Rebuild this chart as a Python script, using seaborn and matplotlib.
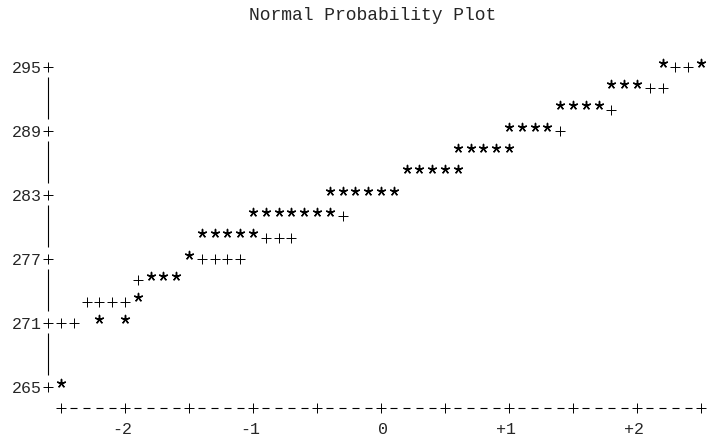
import matplotlib
matplotlib.use("Agg")
import numpy as np
import matplotlib.pyplot as plt
import matplotlib.transforms as mtransforms
import seaborn as sns

# ---------------------------------------------------------------------------
# Datos (cuantil normal, valor)
# ---------------------------------------------------------------------------
titulo = "Normal Probability Plot"

# observaciones (*)
obs_q = [2.2, 2.5,
         1.8, 1.9, 2.0,
         1.4, 1.5, 1.6, 1.7,
         1.0, 1.1, 1.2, 1.3,
         0.6, 0.7, 0.8, 0.9, 1.0,
         0.2, 0.3, 0.4, 0.5, 0.6,
         -0.4, -0.3, -0.2, -0.1, 0.0, 0.1,
         -1.0, -0.9, -0.8, -0.7, -0.6, -0.5, -0.4,
         -1.4, -1.3, -1.2, -1.1, -1.0,
         -1.5,
         -1.8, -1.7, -1.6,
         -1.9,
         -2.2, -2.0,
         -2.5]
obs_val = [295, 295,
           293, 293, 293,
           291, 291, 291, 291,
           289, 289, 289, 289,
           287, 287, 287, 287, 287,
           285, 285, 285, 285, 285,
           283, 283, 283, 283, 283, 283,
           281, 281, 281, 281, 281, 281, 281,
           279, 279, 279, 279, 279,
           277,
           275, 275, 275,
           273,
           271, 271,
           265]

# línea de referencia (+)
ref_q = [2.3, 2.4,
         2.1, 2.2,
         1.8,
         1.4,
         -0.3,
         -0.9, -0.8, -0.7,
         -1.4, -1.3, -1.2, -1.1,
         -1.9,
         -2.3, -2.2, -2.1, -2.0,
         -2.5, -2.4]
ref_val = [295, 295,
           293, 293,
           291,
           289,
           281,
           279, 279, 279,
           277, 277, 277, 277,
           275,
           273, 273, 273, 273,
           271, 271]

y_ticks = [295, 289, 283, 277, 271, 265]
x_ticks = [-2, -1, 0, 1, 2]
x_tick_labels = ["-2", "-1", "0", "+1", "+2"]

# ---------------------------------------------------------------------------
# Estilo tipo impresora de líneas
# ---------------------------------------------------------------------------
sns.set_style("white")
plt.rcParams['font.family'] = ['Liberation Mono', 'DejaVu Sans Mono']
FS = 12
PX_Q = 128.0          # píxeles por unidad de cuantil
PX_V = 64.0 / 6.0     # píxeles por unidad de valor

fig = plt.figure(figsize=(7.09, 4.39), dpi=100)
ax = fig.add_axes([0, 0, 1, 1])
ax.set_xlim(-2.5 - 61 / PX_Q, -2.5 + 648 / PX_Q)
ax.set_ylim(295 - 371 / PX_V, 295 + 68 / PX_V)
ax.axis('off')

# puntos
sns.scatterplot(x=ref_q, y=ref_val, marker='+', s=52, color='black',
                linewidth=0.7, ax=ax)
star_tr = mtransforms.offset_copy(ax.transData, fig=fig, y=4.5, units='dots')
sns.scatterplot(x=obs_q, y=obs_val, marker=(5, 2, 0), s=34, color='black',
                linewidth=1.05, ax=ax, transform=star_tr)

# eje x: +----+----+ ...
v_eje = min(y_ticks) - 2
marcas = np.arange(-2.5, 2.51, 0.5)
guiones = np.array([m + d for m in marcas[:-1] for d in (0.1, 0.2, 0.3, 0.4)])
ax.plot(marcas, np.full(len(marcas), v_eje), ls='none', marker='+', ms=7.2,
        mew=0.7, color='black')
ax.hlines(np.full(len(guiones), v_eje), guiones - 0.026, guiones + 0.026,
          color='black', lw=0.8)

lab_tr = mtransforms.offset_copy(ax.transData, fig=fig, y=-24.7, units='dots')
for t, lab in zip(x_ticks, x_tick_labels):
    ax.text(t + 0.055, v_eje, lab, ha='right', va='baseline', fontsize=FS,
            transform=lab_tr)

# eje y: 295+ | | 289+ ...
x_eje = -2.6
ax.plot(np.full(len(y_ticks), x_eje), y_ticks, ls='none', marker='+', ms=7.2,
        mew=0.7, color='black')
for sup, inf in zip(y_ticks[:-1], y_ticks[1:]):
    ax.vlines(x_eje, inf + 1.1, sup - 0.95, color='black', lw=0.8)

ylab_tr = mtransforms.offset_copy(ax.transData, fig=fig, y=-5.2, units='dots')
for v in y_ticks:
    ax.text(-2.648, v, str(v), ha='right', va='baseline', fontsize=FS,
            transform=ylab_tr)

fig.text(373 / 709, 1 - 20 / 439, titulo, ha='center', va='baseline',
         fontsize=13)

plt.savefig("out.png", dpi=100)
